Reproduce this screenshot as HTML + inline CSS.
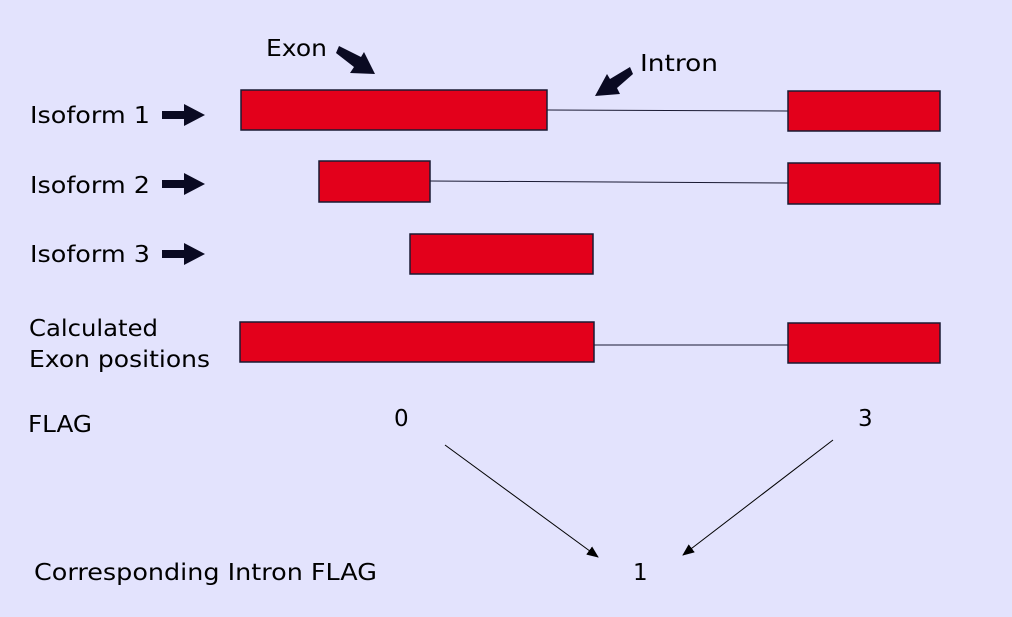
<!DOCTYPE html>
<html><head><meta charset="utf-8"><style>
body{margin:0;background:#fff}
svg{display:block}
text{font-family:"DejaVu Sans","Liberation Sans",sans-serif;font-size:23px;fill:#000}
</style></head><body>
<svg width="1012" height="617" viewBox="0 0 1012 617">
<defs>
<marker id="a" markerWidth="12" markerHeight="10" refX="11" refY="5" orient="auto" markerUnits="userSpaceOnUse"><path d="M0,0 L12,5 L0,10 Z" fill="#000"/></marker>
</defs>
<rect x="0" y="0" width="1012" height="617" fill="#e3e3fd"/>
<g stroke="#1a1a33" stroke-width="1.5" fill="#e3001b">
<line x1="547" y1="110" x2="788" y2="111" stroke-width="1"/>
<line x1="430" y1="181" x2="788" y2="183" stroke-width="1"/>
<line x1="594" y1="345" x2="788" y2="345" stroke-width="1"/>
<rect x="241" y="90" width="306" height="40"/>
<rect x="788" y="91" width="152" height="40"/>
<rect x="319" y="161" width="111" height="41"/>
<rect x="788" y="163" width="152" height="41"/>
<rect x="410" y="234" width="183" height="40"/>
<rect x="240" y="322" width="354" height="40"/>
<rect x="788" y="323" width="152" height="40"/>
</g>
<g fill="#0a0a22">
<path d="M162,111 h22 v-7 l21,11 l-21,11 v-7 h-22 z"/>
<path d="M162,180 h22 v-7 l21,11 l-21,11 v-7 h-22 z"/>
<path d="M162,250 h22 v-7 l21,11 l-21,11 v-7 h-22 z"/>
<path d="M336,53 l3,-7 l22,11 l3,-5 l11,22 l-25,-1 l4,-6 z"/>
<path d="M633,74 l-3,-7 l-20,12 l-3,-5 l-12,22 l25,-2 l-3,-6 z"/>
</g>
<g stroke="#000" stroke-width="1" marker-end="url(#a)">
<line x1="445" y1="445" x2="598" y2="557"/>
<line x1="833" y1="440" x2="683" y2="555"/>
</g>
<g lengthAdjust="spacingAndGlyphs">
<text x="266" y="56" textLength="61" lengthAdjust="spacingAndGlyphs">Exon</text>
<text x="640" y="71" textLength="78" lengthAdjust="spacingAndGlyphs">Intron</text>
<text x="30" y="123" textLength="120" lengthAdjust="spacingAndGlyphs">Isoform 1</text>
<text x="30" y="193" textLength="120" lengthAdjust="spacingAndGlyphs">Isoform 2</text>
<text x="30" y="262" textLength="120" lengthAdjust="spacingAndGlyphs">Isoform 3</text>
<text x="29" y="336" textLength="129" lengthAdjust="spacingAndGlyphs">Calculated</text>
<text x="29" y="367" textLength="181" lengthAdjust="spacingAndGlyphs">Exon positions</text>
<text x="28" y="432" textLength="64" lengthAdjust="spacingAndGlyphs">FLAG</text>
<text x="394" y="426">0</text>
<text x="858" y="426">3</text>
<text x="34" y="580" textLength="343" lengthAdjust="spacingAndGlyphs">Corresponding Intron FLAG</text>
<text x="633" y="580">1</text>
</g>
</svg>
</body></html>
